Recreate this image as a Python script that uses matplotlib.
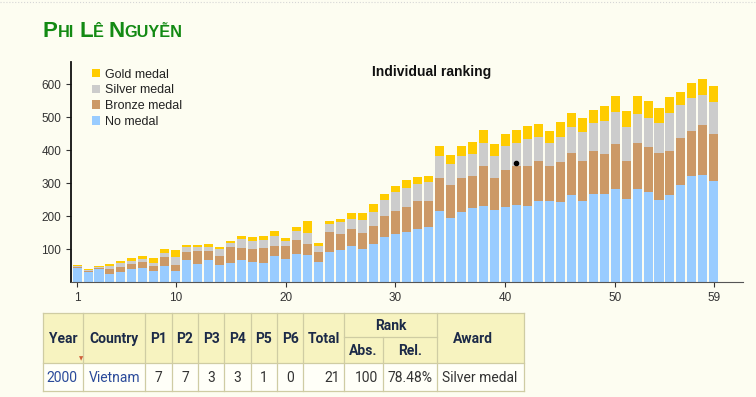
import matplotlib.pyplot as plt
from matplotlib.patches import Rectangle

plt.rcParams['font.family'] = ['Liberation Sans', 'DejaVu Sans']

# --- chart data (IMO editions 1..59) ---
edition = list(range(1, 60))
x_ticks = [1, 10, 20, 30, 40, 50, 59]
y_ticks = [100, 200, 300, 400, 500, 600]

gold = [3, 3, 3, 6, 7, 8, 10, 15, 11, 21,
        7, 7, 8, 8, 8, 11, 10, 11, 15, 7,
        10, 36, 11, 10, 11, 18, 21, 24, 19, 19,
        23, 20, 20, 32, 28, 30, 35, 39, 37, 37,
        39, 39, 39, 37, 45, 42, 42, 39, 47, 49,
        47, 54, 51, 45, 49, 39, 44, 48, 48]
silver = [3, 3, 2, 11, 12, 10, 10, 10, 13, 22,
          15, 12, 12, 19, 10, 25, 25, 25, 30, 17,
          30, 35, 17, 25, 35, 30, 39, 44, 49, 56,
          58, 51, 55, 66, 63, 68, 68, 70, 67, 74,
          71, 81, 73, 69, 78, 79, 89, 83, 100, 98,
          104, 90, 88, 92, 113, 100, 101, 90, 98]
bronze = [5, 3, 3, 15, 15, 16, 19, 15, 26, 20,
          23, 38, 27, 28, 48, 38, 38, 45, 32, 38,
          41, 33, 30, 61, 50, 53, 51, 53, 64, 71,
          76, 86, 79, 99, 101, 101, 97, 122, 98, 113,
          119, 122, 120, 104, 120, 128, 122, 131, 120, 135,
          114, 137, 137, 141, 133, 143, 135, 153, 143]
no_medal = [41, 31, 40, 24, 30, 38, 41, 32, 49, 33,
            67, 55, 68, 52, 59, 66, 62, 58, 78, 70,
            85, 81, 61, 90, 96, 108, 99, 116, 136, 145,
            151, 161, 168, 216, 193, 213, 224, 229, 217, 226,
            232, 231, 247, 247, 243, 264, 245, 267, 268, 283,
            252, 283, 272, 249, 265, 295, 322, 324, 305]

person_edition = 41
person_rank = 100

# --- table data ---
header_cols = ['Year', 'Country', 'P1', 'P2', 'P3', 'P4', 'P5', 'P6', 'Total']
rank_sub = ['Abs.', 'Rel.']
row = ['2000', 'Vietnam', '7', '7', '3', '3', '1', '0', '21', '100', '78.48%', 'Silver medal']

W, H = 756, 397
bg = '#fdfdf1'
fig = plt.figure(figsize=(W / 100, H / 100), dpi=100, facecolor=bg)

# overlay in pixel coordinates for title and table
ov = fig.add_axes([0, 0, 1, 1])
ov.set_xlim(0, W)
ov.set_ylim(H, 0)
ov.axis('off')

ov.plot([0, W], [1.5, 1.5], ls=':', color='#d6d6d6', lw=0.8)

# small caps title
renderer = fig.canvas.get_renderer()
parts = [('P', 16), ('HI', 11.7), (None, 5), ('L', 16), ('Ê', 11.7), (None, 5), ('N', 16), ('GUYỄN', 11.7)]
x = 43
for txt, size in parts:
    if txt is None:
        x += size
        continue
    t = ov.text(x, 37, txt, fontsize=size, fontweight='bold', color='#138a13',
                va='baseline', ha='left')
    x += t.get_window_extent(renderer=renderer).width

# --- bar chart ---
ax = fig.add_axes([71 / W, (H - 282) / H, (743 - 71) / W, (282 - 62) / H])
ax.set_facecolor('none')
layers = [(no_medal, '#99ccff', 'No medal'),
          (bronze, '#cc9966', 'Bronze medal'),
          (silver, '#cccccc', 'Silver medal'),
          (gold, '#ffcc00', 'Gold medal')]
bottom = [0] * len(edition)
handles = []
for vals, color, label in layers:
    b = ax.bar(edition, vals, bottom=bottom, width=0.82, color=color, label=label)
    handles.append(b)
    bottom = [p + v for p, v in zip(bottom, vals)]

total = bottom
ax.plot(person_edition, total[person_edition - 1] - person_rank, 'o', color='black', ms=3)

ax.set_xlim(0.45, 61.65)
ax.set_ylim(0, 667)
ax.set_xticks(x_ticks)
ax.set_yticks(y_ticks)
ax.tick_params(labelsize=8.5, colors='#333333', length=3.5, width=0.8)
for s in ['top', 'right']:
    ax.spines[s].set_visible(False)
ax.spines['left'].set_color('#111111')
ax.spines['left'].set_linewidth(1.3)
ax.spines['bottom'].set_color('#555555')

ax.legend(handles[::-1], [l[2] for l in layers[::-1]], loc='upper left',
          bbox_to_anchor=(92 / W, 1 - 68.5 / H), bbox_transform=fig.transFigure,
          frameon=False, fontsize=9, handlelength=0.65, handleheight=0.65,
          handletextpad=0.42, labelspacing=0.3, borderpad=0, borderaxespad=0,
          labelcolor='#222222')

fig.text(432 / W, 1 - 72 / H, 'Individual ranking', ha='center', va='center',
         fontsize=10, fontweight='bold', color='#111111')

# --- table ---
xs = [43.3, 83.3, 145, 171.7, 198.3, 224.3, 250.7, 277.3, 303.3, 344, 382.7, 437.3, 524]
ys = [313.3, 336.7, 362.7, 391]
head_bg = '#f7f3c0'
row_bg = '#fffff8'
line_c = '#cfcca3'
head_c = '#1c2a48'
tfont = ['Roboto', 'DejaVu Sans']

ov.add_patch(Rectangle((xs[0], ys[0]), xs[-1] - xs[0], ys[2] - ys[0], facecolor=head_bg, edgecolor='none'))
ov.add_patch(Rectangle((xs[0], ys[2]), xs[-1] - xs[0], ys[3] - ys[2], facecolor=row_bg, edgecolor='none'))

lw = 0.9
# horizontal lines
ov.plot([xs[0], xs[-1]], [ys[0], ys[0]], color=line_c, lw=lw)
ov.plot([xs[9], xs[11]], [ys[1], ys[1]], color=line_c, lw=lw)
ov.plot([xs[0], xs[-1]], [ys[2], ys[2]], color=line_c, lw=lw)
ov.plot([xs[0], xs[-1]], [ys[3], ys[3]], color=line_c, lw=lw)
# vertical lines
for i, xv in enumerate(xs):
    if i == 10:
        ov.plot([xv, xv], [ys[1], ys[3]], color=line_c, lw=lw)
    else:
        ov.plot([xv, xv], [ys[0], ys[3]], color=line_c, lw=lw)

hy = (ys[0] + ys[2]) / 2 + 1
for i, name in enumerate(header_cols):
    ov.text((xs[i] + xs[i + 1]) / 2, hy, name, ha='center', va='center',
            fontsize=10, fontweight='bold', color=head_c, family=tfont)
ov.text((xs[9] + xs[11]) / 2, (ys[0] + ys[1]) / 2 + 1, 'Rank', ha='center', va='center',
        fontsize=10, fontweight='bold', color=head_c, family=tfont)
for j, name in enumerate(rank_sub):
    ov.text((xs[9 + j] + xs[10 + j]) / 2, (ys[1] + ys[2]) / 2 + 1, name, ha='center',
            va='center', fontsize=10, fontweight='bold', color=head_c, family=tfont)
ov.text(473, hy, 'Award', ha='center', va='center', fontsize=10, fontweight='bold',
        color=head_c, family=tfont)
ov.text(80.7, 358.5, '▼', ha='center', va='center', fontsize=4, color='#d0603a',
        family=['DejaVu Sans'])

ry = (ys[2] + ys[3]) / 2 + 1
link_c = '#2a4a9a'
num_c = '#333333'
ov.text(xs[0] + 3.5, ry, row[0], ha='left', va='center', fontsize=10, color=link_c, family=tfont)
ov.text(xs[1] + 5, ry, row[1], ha='left', va='center', fontsize=10, color=link_c, family=tfont)
for k in range(2, 8):
    ov.text((xs[k] + xs[k + 1]) / 2, ry, row[k], ha='center', va='center', fontsize=10,
            color=num_c, family=tfont)
for k in (8, 9, 10):
    ov.text(xs[k + 1] - 4.5, ry, row[k], ha='right', va='center', fontsize=10,
            color=num_c, family=tfont)
ov.text(xs[11] + 4.5, ry, row[11], ha='left', va='center', fontsize=10, color=num_c, family=tfont)

fig.savefig('out.png', dpi=100, facecolor=bg)
